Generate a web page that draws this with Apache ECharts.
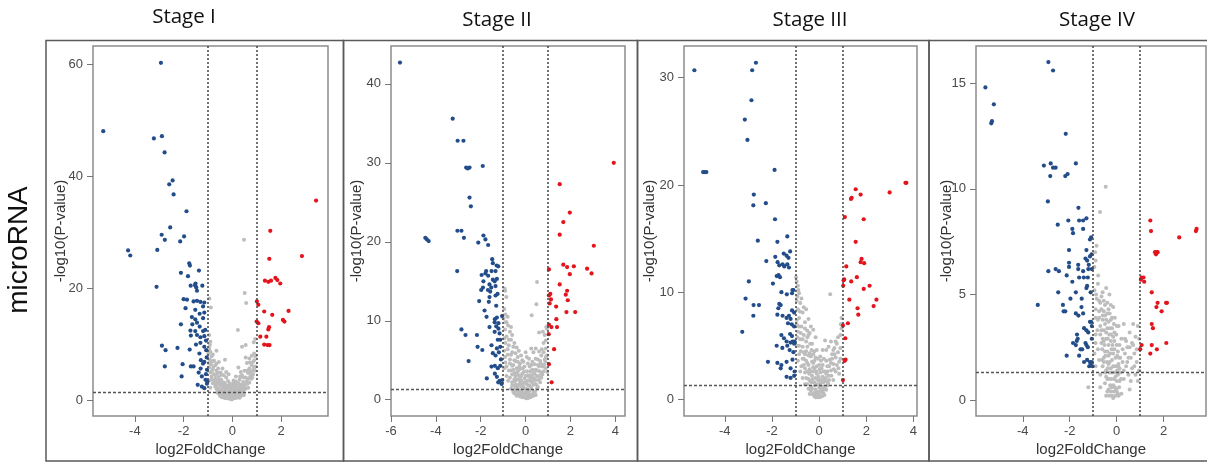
<!DOCTYPE html>
<html><head><meta charset="utf-8">
<script src="https://cdn.jsdelivr.net/npm/echarts@6/dist/echarts.min.js"></script>
<style>html,body{margin:0;padding:0;background:#fff}#c{width:1207px;height:463px}</style>
</head><body><div id="c"></div>
<script>
// ---------- data ----------
const stageNames = ['Stage I', 'Stage II', 'Stage III', 'Stage IV'];
const rowLabel = 'microRNA';
const xName = 'log2FoldChange';
const yName = '-log10(P-value)';
const fcCut = [-1, 1];
const pCut = 1.3;

const xTicks1 = [-4, -2, 0, 2];
const yTicks1 = [0, 20, 40, 60];
const xTicks2 = [-6, -4, -2, 0, 2, 4];
const yTicks2 = [0, 10, 20, 30, 40];
const xTicks3 = [-4, -2, 0, 2, 4];
const yTicks3 = [0, 10, 20, 30];
const xTicks4 = [-4, -2, 0, 2];
const yTicks4 = [0, 5, 10, 15];

// Stage I
const s1Down = [[-2.93,60.2],[-5.30,48.0],[-2.89,47.1],[-3.22,46.7],[-2.78,44.2],[-2.45,39.2],[-2.59,38.5],[-2.41,36.7],[-1.88,33.7],[-2.55,30.8],[-2.90,29.5],[-2.77,28.6],[-1.98,29.2],[-2.14,28.3],[-3.08,26.8],[-4.28,26.7],[-4.19,25.8],[-1.77,24.4],[-1.74,24.0],[-1.37,23.1],[-1.82,22.1],[-2.11,22.7],[-3.11,20.2],[-1.51,20.8],[-1.53,20.5],[-1.48,20.1],[-1.23,20.4],[-1.71,20.4],[-1.45,19.5],[-2.0,18.0],[-1.86,17.9],[-1.59,17.6],[-1.45,17.7],[-1.31,17.5],[-1.15,17.4],[-1.20,16.7],[-1.92,16.4],[-1.52,16.1],[-1.34,15.4],[-1.15,15.6],[-1.66,14.8],[-1.52,14.4],[-1.20,14.6],[-2.11,13.5],[-1.64,13.5],[-1.45,13.8],[-1.34,13.1],[-1.72,12.4],[-1.52,12.3],[-1.20,12.3],[-1.11,12.5],[-1.70,11.5],[-1.45,11.6],[-1.31,11.2],[-1.15,11.4],[-2.89,9.7],[-2.74,8.9],[-2.25,9.3],[-1.75,9.0],[-1.49,9.9],[-1.31,10.2],[-1.15,9.5],[-1.07,8.9],[-2.04,6.4],[-1.70,6.0],[-1.59,6.0],[-2.77,6.0],[-1.29,7.1],[-1.20,6.5],[-1.15,6.8],[-2.08,4.2],[-1.38,4.9],[-1.25,4.2],[-1.08,4.6],[-1.04,5.4],[-1.42,2.7],[-1.25,2.4],[-1.15,2.1],[-1.04,2.9],[-1.05,7.6],[-1.10,3.6],[-1.02,3.3],[-1.30,5.6],[-1.08,10.6],[-1.35,8.3]];
const s1Up = [[3.44,35.6],[1.56,30.2],[2.86,25.7],[1.52,25.2],[1.34,21.3],[1.48,21.1],[1.59,21.3],[1.77,21.8],[1.85,21.4],[1.97,20.8],[1.01,17.6],[1.07,17.0],[1.31,15.8],[1.64,15.2],[2.31,15.9],[1.0,14.0],[1.07,13.7],[2.08,14.3],[2.14,14.0],[1.51,13.0],[1.48,12.6],[1.15,11.3],[1.40,11.3],[1.31,9.9],[1.45,9.8],[1.53,9.8]];
const s1NS = [[0.48,28.6],[0.51,19.1],[0.57,17.3],[-0.94,18.1],[-0.88,16.5],[0.23,12.5],[0.40,9.5],[0.55,9.8],[0.94,10.9],[0.88,10.3],[-0.95,11.6],[-0.9,10.4],[-0.95,9.2],[-0.9,8.6],[-0.85,7.8],[-0.92,7.2],[-0.8,8.1],[-0.75,7.0],[-0.88,6.4],[-0.7,6.2],[-0.95,5.8],[-0.8,5.5],[-0.65,5.2],[-0.9,4.9],[-0.75,4.6],[-0.6,4.8],[-0.85,4.2],[-0.55,4.1],[-0.7,3.8],[-0.95,3.5],[-0.45,3.6],[-0.6,3.2],[-0.8,3.0],[-0.5,2.9],[-0.35,3.1],[-0.7,2.4],[-0.4,2.5],[-0.55,2.1],[-0.9,2.2],[-0.3,2.2],[-0.45,1.8],[-0.2,2.0],[-0.35,1.5],[-0.25,1.2],[-0.6,1.6],[-0.15,1.4],[-0.1,0.9],[-0.3,0.8],[-0.05,1.8],[0.05,0.6],[0.1,1.2],[-0.2,0.5],[0.15,0.9],[0,0.3],[0.2,1.6],[0.25,2.3],[0.1,2.0],[0.3,1.1],[0.35,2.7],[0.4,1.9],[0.45,3.2],[0.3,3.6],[0.5,2.6],[0.55,4.0],[0.4,4.4],[0.6,3.4],[0.65,4.8],[0.5,5.2],[0.7,5.6],[0.75,4.3],[0.8,6.2],[0.6,6.6],[0.85,5.3],[0.9,7.1],[0.7,7.4],[0.95,6.0],[0.8,7.9],[0.55,7.6],[0.9,8.3],[0.0,2.6],[-0.1,3.0],[0.05,3.5],[-0.25,4.0],[0.15,4.2],[-0.4,5.6],[0.25,5.8],[-0.55,6.8],[-0.3,7.2],[-0.15,2.6],[0.2,3.0],[-0.45,4.5],[0.35,5.0],[-0.65,8.8],[0.65,2.2],[-0.05,1.1],
  [-0.55,1.1],[-0.45,1.2],[-0.4,0.9],[-0.32,0.4],[-0.25,0.7],[-0.18,0.3],[-0.12,0.2],[-0.08,0.5],[-0.02,0.1],[0.02,0.9],[0.08,0.3],[0.12,0.5],[0.18,0.4],[0.22,0.8],[0.28,0.6],[0.35,0.7],[0.42,1.2],[0.48,0.9],[-0.65,2.0],[-0.5,1.5],[-0.38,2.0],[-0.28,1.7],[-0.22,2.5],[-0.12,1.9],[-0.02,2.2],[0.07,1.6],[0.13,2.5],[0.18,1.9],[0.28,2.0],[0.38,2.4],[0.45,1.6],[0.55,2.0],[0.62,2.9],[0.7,3.1],[0.78,3.8],[0.85,4.6],[0.92,5.2],[-0.7,2.9],[-0.62,3.6],[-0.52,3.4],[-0.42,3.0],[-0.32,2.6],[-0.18,3.4],[-0.08,2.6],[0.05,3.0],[0.15,3.3],[0.25,3.0],[0.32,4.2],[0.45,4.0],[-0.85,5.1],[-0.78,5.9],[-0.68,4.4],[-0.58,5.6],[-0.48,4.9],[-0.35,4.4],[-0.25,5.0],[-0.15,4.6],[-0.97,6.6],[-0.82,6.9],[-0.65,6.5],[0.62,5.2],[0.72,6.7],[0.85,6.8],[0.95,7.8],[-0.92,9.8],[-0.98,8.3],
  [-0.5,0.7],[-0.42,0.5],[-0.35,1.1],[-0.28,0.3],[-0.22,1.0],[-0.15,0.6],[-0.06,0.3],[0.0,0.7],[0.04,1.3],[0.1,0.4],[0.16,0.6],[0.22,1.2],[0.3,0.4],[0.38,0.9],[-0.6,1.3],[-0.48,2.6],[-0.38,1.5],[-0.3,2.9],[-0.18,1.2],[-0.1,2.2],[0.02,1.7],[0.12,2.8],[0.2,2.2],[0.32,1.6],[0.42,2.8],[0.5,2.0],[0.58,3.0],[-0.75,3.4],[-0.65,2.6],[-0.55,3.0],[-0.85,3.7],[0.68,3.9],[0.75,5.0],[0.82,4.0],[0.9,5.8]];

// Stage II
const s2Down = [[-5.60,42.7],[-3.25,35.6],[-3.03,32.8],[-2.77,32.8],[-2.65,29.4],[-2.58,29.3],[-2.50,29.4],[-1.91,29.6],[-2.50,25.6],[-2.44,24.5],[-3.04,21.4],[-2.86,21.4],[-2.75,20.5],[-4.47,20.5],[-4.40,20.3],[-4.32,20.1],[-1.88,20.8],[-1.79,20.3],[-2.11,19.9],[-1.67,19.6],[-3.05,16.3],[-1.49,17.8],[-1.46,17.3],[-1.29,17.0],[-1.22,16.9],[-1.76,16.3],[-1.79,16.0],[-1.52,16.3],[-1.34,16.3],[-1.96,15.8],[-1.88,15.0],[-1.67,15.7],[-1.46,15.2],[-1.38,15.0],[-1.28,15.3],[-1.61,14.6],[-1.90,14.2],[-1.68,13.9],[-1.53,14.2],[-1.34,14.4],[-1.98,13.9],[-1.58,13.7],[-1.34,13.2],[-1.25,13.4],[-2.07,12.5],[-1.61,13.0],[-1.64,12.4],[-1.31,11.9],[-1.83,11.3],[-1.74,10.5],[-1.37,10.2],[-1.28,10.4],[-1.38,9.8],[-1.21,9.7],[-1.61,9.2],[-1.31,9.3],[-1.21,9.0],[-2.86,8.9],[-2.68,8.2],[-2.17,8.2],[-1.38,8.6],[-1.16,8.4],[-1.24,7.6],[-1.13,7.6],[-2.14,6.7],[-1.93,6.3],[-1.52,6.9],[-1.28,6.5],[-1.13,6.7],[-1.46,5.9],[-1.34,5.6],[-1.19,6.0],[-2.54,4.9],[-1.52,4.2],[-1.37,4.3],[-1.24,4.0],[-1.13,4.3],[-1.73,2.7],[-1.37,3.3],[-1.28,2.9],[-1.16,2.4],[-1.22,2.2],[-1.07,2.0],[-1.04,2.5],[-1.05,10.6],[-1.10,5.1]];
const s2Up = [[3.93,30.0],[1.52,27.3],[1.97,23.7],[1.68,22.5],[1.52,20.9],[3.04,19.5],[1.68,17.1],[1.85,16.8],[2.15,16.9],[2.74,16.6],[2.94,16.0],[1.97,15.9],[1.04,16.5],[1.52,14.6],[1.10,13.4],[1.04,13.2],[1.13,12.7],[1.85,13.8],[1.79,13.3],[1.88,12.6],[1.07,12.2],[1.36,11.8],[1.82,11.1],[2.21,11.1],[1.37,10.2],[1.04,9.5],[1.15,9.2],[1.40,9.2],[1.03,8.3],[1.27,6.4],[1.04,4.5],[1.16,2.2]];
const s2NS = [[0.51,14.9],[0.48,12.1],[0.27,10.7],[0.60,8.5],[-0.91,13.8],[-0.98,10.3],[-0.94,14.1],[-0.86,13.0],[0.92,9.2],[0.77,8.6],[-0.95,11.5],[-0.9,10.8],[-0.85,9.8],[-0.78,9.4],[-0.92,8.9],[-0.7,8.6],[-0.85,8.0],[-0.65,7.6],[-0.9,7.2],[-0.75,6.9],[-0.55,6.7],[-0.95,6.2],[-0.6,6.0],[-0.8,5.7],[-0.45,5.9],[-0.7,5.1],[-0.5,5.0],[-0.9,4.7],[-0.35,4.8],[-0.6,4.3],[-0.4,4.0],[-0.75,3.7],[-0.25,3.9],[-0.5,3.4],[-0.3,3.1],[-0.85,3.0],[-0.15,3.3],[-0.4,2.6],[-0.2,2.4],[-0.6,2.2],[-0.05,2.7],[-0.3,1.9],[-0.1,1.6],[-0.45,1.5],[0.05,2.0],[-0.2,1.1],[0.0,0.8],[-0.1,0.4],[0.1,1.3],[0.15,0.7],[0.2,2.4],[0.25,1.5],[0.3,2.9],[0.35,1.9],[0.4,3.3],[0.45,2.5],[0.5,3.7],[0.3,3.8],[0.55,4.4],[0.6,3.0],[0.65,4.9],[0.45,5.2],[0.7,5.6],[0.75,4.2],[0.8,6.0],[0.85,5.1],[0.9,6.5],[0.95,5.6],[0.6,6.1],[0.9,7.5],[0.85,8.2],[0.95,9.0],[0.1,3.1],[-0.05,4.2],[0.2,3.6],[-0.15,5.0],[0.1,4.6],[-0.3,6.2],[0.35,6.0],[-0.5,7.2],[0.2,0.3],[-0.3,0.6],[0.35,1.0],[-0.25,2.8],[0.15,2.9],[-0.65,9.2],[-0.55,3.8],[0.05,5.4],[-0.35,5.4],[0.5,1.4],[0.7,3.4],
  [-0.55,1.0],[-0.42,1.2],[-0.35,0.8],[-0.25,0.4],[-0.15,0.3],[-0.08,0.7],[0.02,0.2],[0.08,0.5],[0.14,1.0],[0.22,0.6],[0.3,0.7],[0.42,1.0],[-0.6,1.8],[-0.48,2.3],[-0.35,1.6],[-0.25,2.1],[-0.12,2.0],[0.0,1.4],[0.08,2.4],[0.18,1.8],[0.28,2.2],[0.38,2.7],[0.48,1.9],[0.58,2.5],[-0.7,2.8],[-0.6,3.2],[-0.45,3.0],[-0.35,3.6],[-0.2,3.0],[-0.08,3.5],[0.05,3.6],[0.22,3.1],[0.35,3.4],[0.5,3.0],[0.62,3.6],[0.75,3.2],[0.82,4.4],[0.9,4.0],[0.97,3.5],[-0.85,4.2],[-0.7,4.6],[-0.55,4.4],[-0.45,4.9],[-0.25,4.6],[-0.1,4.8],[0.15,5.2],[0.25,4.4],[0.4,4.5],[0.55,5.1],[0.68,4.6],[-0.92,5.4],[-0.8,6.4],[-0.65,5.7],[-0.4,6.6],[-0.2,5.6],[0.0,6.0],[0.25,6.5],[0.45,6.5],[0.72,6.4],[0.9,5.4],[-0.95,7.8],[-0.75,7.6],[-0.6,8.2],[-0.9,9.8],[-0.8,10.5],[0.8,7.2],
  [-0.5,0.8],[-0.4,0.5],[-0.3,1.2],[-0.22,0.8],[-0.12,0.9],[-0.05,0.3],[0.05,0.9],[0.1,0.2],[0.18,1.2],[0.26,0.4],[0.35,0.5],[0.45,0.6],[-0.65,1.4],[-0.52,1.8],[-0.42,1.9],[-0.3,2.5],[-0.18,1.6],[-0.05,2.2],[0.02,1.1],[0.12,1.8],[0.24,2.7],[0.32,2.4],[0.42,2.0],[0.55,1.6],[0.65,2.2],[-0.78,2.4],[-0.65,3.7],[-0.5,2.6],[-0.4,3.4],[-0.28,4.2],[-0.12,4.0],[0.0,3.0],[0.18,4.2],[0.3,4.8],[0.45,3.8],[0.6,4.2],[0.7,2.8],[0.8,3.6],[0.88,4.8],[-0.95,4.0]];

// Stage III
const s3Down = [[-5.29,30.7],[-2.68,31.4],[-2.84,30.7],[-2.87,27.9],[-3.15,26.1],[-3.04,24.2],[-4.92,21.2],[-4.85,21.2],[-4.78,21.2],[-1.89,21.4],[-2.77,19.1],[-2.26,18.3],[-2.79,18.1],[-1.87,16.8],[-1.35,15.2],[-2.60,14.8],[-1.77,14.7],[-1.50,13.6],[-1.38,13.4],[-1.30,13.2],[-1.23,13.8],[-2.24,12.9],[-1.86,13.3],[-1.76,12.8],[-1.69,12.5],[-1.55,12.6],[-1.48,12.4],[-1.35,12.6],[-1.28,12.3],[-1.80,11.5],[-1.72,11.6],[-1.66,11.4],[-2.98,11.0],[-1.96,10.8],[-1.09,10.2],[-1.15,9.9],[-1.60,10.0],[-1.37,9.8],[-3.12,9.4],[-2.79,7.8],[-2.55,8.8],[-2.78,8.8],[-3.26,6.3],[-1.13,10.2],[-1.69,8.9],[-1.63,8.8],[-1.73,8.5],[-1.77,7.9],[-1.55,7.8],[-1.38,7.6],[-1.28,7.8],[-1.21,7.5],[-1.15,8.3],[-1.06,8.1],[-1.32,7.1],[-1.16,7.0],[-1.06,6.8],[-1.60,6.0],[-1.49,5.7],[-1.23,6.1],[-1.15,5.9],[-1.38,5.4],[-1.21,5.3],[-1.12,5.4],[-1.06,5.2],[-1.04,5.4],[-1.80,5.0],[-1.56,4.8],[-1.35,5.0],[-2.17,3.5],[-1.77,3.4],[-1.60,3.2],[-1.38,3.5],[-1.13,3.7],[-1.63,2.9],[-1.21,2.9],[-1.04,2.6],[-1.38,2.1],[-1.21,2.0],[-1.06,2.2],[-1.09,4.4],[-1.25,4.6]];
const s3Up = [[3.70,20.2],[3.66,20.2],[2.99,19.3],[1.55,19.6],[1.38,18.8],[1.35,18.7],[1.76,19.1],[1.09,17.0],[1.89,16.8],[1.55,14.7],[1.80,13.1],[1.76,12.8],[1.91,12.7],[1.15,12.4],[1.60,11.4],[1.06,11.2],[1.04,11.1],[1.36,11.0],[2.14,10.6],[1.89,10.3],[1.02,10.6],[2.43,9.3],[1.28,9.3],[2.31,8.7],[1.63,8.5],[1.66,7.9],[1.22,7.1],[1.01,6.9],[1.11,5.7],[1.12,3.7],[1.08,3.6],[1.01,1.8]];
const s3NS = [[0.47,9.8],[-0.98,11.4],[0.92,7.0],[0.95,7.6],[-0.95,11.0],[-0.9,10.6],[-0.85,9.9],[-0.95,9.2],[-0.8,9.0],[-0.9,8.4],[-0.7,8.1],[-0.85,7.6],[-0.95,7.0],[-0.75,6.8],[-0.6,7.2],[-0.9,6.3],[-0.65,6.0],[-0.8,5.6],[-0.5,5.8],[-0.95,5.0],[-0.7,4.9],[-0.55,4.5],[-0.85,4.2],[-0.4,4.3],[-0.65,3.8],[-0.5,3.4],[-0.3,3.5],[-0.75,3.1],[-0.4,2.8],[-0.2,2.9],[-0.6,2.5],[-0.3,2.2],[-0.1,2.4],[-0.45,1.9],[-0.2,1.6],[-0.05,1.8],[-0.35,1.2],[-0.15,0.9],[0.0,1.1],[-0.05,0.4],[0.1,0.7],[0.05,1.5],[0.15,2.1],[0.2,1.2],[0.25,2.6],[0.3,1.7],[0.1,2.9],[0.35,3.1],[0.4,2.2],[0.45,3.7],[0.5,2.7],[0.55,4.2],[0.6,3.3],[0.65,4.8],[0.7,3.9],[0.75,5.2],[0.8,4.4],[0.85,3.5],[0.9,6.0],[0.95,6.6],[0.9,4.8],[0.2,3.8],[0.0,3.2],[-0.15,3.9],[0.15,4.6],[0.25,5.5],[-0.3,5.2],[0.5,5.4],[0.4,4.9],[-0.25,6.5],[-0.45,7.5],[0.05,2.5],[-0.1,0.6],[0.3,0.9],[0.6,1.8],[-0.6,1.4],[-0.2,4.5],[0.05,4.0],[-0.4,6.2],[0.85,2.4],[0.7,2.6],
  [-0.45,1.0],[-0.35,0.8],[-0.28,0.5],[-0.2,0.3],[-0.12,0.5],[-0.08,0.2],[0.0,0.4],[0.05,0.8],[0.12,0.3],[0.18,0.6],[0.25,1.0],[0.35,1.3],[-0.55,2.0],[-0.42,2.4],[-0.32,1.6],[-0.25,2.6],[-0.15,2.0],[-0.02,2.1],[0.08,1.8],[0.12,1.2],[0.22,1.9],[0.3,2.4],[0.42,1.8],[0.52,2.2],[-0.7,2.0],[-0.8,2.6],[-0.65,3.2],[-0.55,3.6],[-0.45,3.2],[-0.35,4.0],[-0.25,3.4],[-0.1,3.1],[0.08,3.6],[0.3,3.6],[0.42,3.1],[0.62,2.8],[0.75,3.2],[0.82,2.9],[0.9,3.8],[-0.9,3.6],[-0.78,4.5],[-0.65,4.4],[-0.5,4.9],[-0.38,5.2],[-0.25,4.2],[-0.1,4.6],[0.3,4.6],[0.6,4.6],[0.7,5.4],[0.8,5.8],[-0.92,5.8],[-0.78,6.2],[-0.6,6.6],[-0.5,6.4],[-0.35,6.8],[-0.15,5.8],[-0.95,7.4],[-0.82,8.2],[-0.65,8.6],[-0.55,8.4],[-0.92,9.6],[-0.75,9.4],[-0.88,10.2],
  [-0.4,0.5],[-0.3,1.0],[-0.22,0.6],[-0.15,0.2],[-0.05,0.7],[0.02,0.2],[0.08,1.1],[0.15,0.9],[0.22,0.4],[-0.5,1.4],[-0.38,1.7],[-0.28,1.9],[-0.18,1.3],[-0.08,1.4],[0.0,1.8],[0.18,1.6],[0.28,2.0],[0.38,1.5],[-0.6,2.9],[-0.5,2.6],[-0.35,2.6],[-0.25,3.0],[-0.12,2.6],[0.02,2.8],[0.18,2.6],[0.35,2.6],[0.5,3.4],[-0.7,3.8],[-0.6,4.2],[-0.45,4.1],[-0.32,4.6],[-0.2,3.6],[-0.05,3.8],[0.15,3.2],[0.55,3.8],[0.65,4.2],[-0.85,5.0],[-0.7,5.6],[-0.55,5.4],[-0.45,6.0],[-0.85,6.8]];

// Stage IV
const s4Down = [[-2.91,16.0],[-2.71,15.6],[-5.59,14.8],[-5.23,14.0],[-5.31,13.2],[-5.34,13.1],[-2.17,12.6],[-3.10,11.1],[-2.81,11.2],[-2.71,11.0],[-2.60,11.0],[-2.83,10.6],[-1.74,11.2],[-2.09,10.7],[-2.19,10.6],[-2.93,9.4],[-1.63,9.1],[-2.06,8.5],[-1.60,8.5],[-1.43,8.5],[-1.29,8.6],[-2.51,8.3],[-1.89,8.1],[-1.86,7.9],[-1.43,8.1],[-1.09,7.7],[-1.14,7.6],[-2.03,7.1],[-1.29,7.1],[-1.07,6.9],[-1.14,6.8],[-1.33,6.7],[-1.26,6.6],[-1.19,6.4],[-2.60,6.2],[-2.46,6.1],[-2.91,6.1],[-2.03,6.5],[-2.03,6.3],[-1.64,6.4],[-1.64,6.2],[-1.43,6.1],[-1.21,6.2],[-1.06,6.2],[-2.13,5.9],[-1.89,5.6],[-1.60,5.8],[-1.40,5.8],[-1.23,5.8],[-1.26,5.4],[-1.29,5.3],[-2.49,5.1],[-1.74,5.1],[-1.11,5.1],[-1.97,4.8],[-1.49,4.8],[-3.36,4.5],[-2.29,4.5],[-2.26,4.2],[-2.19,4.2],[-1.50,4.4],[-1.43,4.1],[-1.74,4.1],[-1.63,4.0],[-1.14,3.7],[-1.09,3.7],[-1.06,3.5],[-1.39,3.4],[-1.29,3.3],[-1.21,3.2],[-1.69,3.1],[-1.66,2.9],[-1.70,2.8],[-1.86,2.7],[-1.74,2.6],[-1.33,2.7],[-1.29,2.6],[-1.23,2.5],[-1.54,2.4],[-1.47,2.4],[-1.06,2.9],[-2.13,2.1],[-1.60,2.1],[-1.39,1.8],[-1.26,1.9],[-1.14,1.8],[-1.11,1.7],[-1.06,1.8],[-1.03,1.6],[-1.17,1.6]];
const s4Up = [[3.37,8.0],[3.40,8.1],[2.66,7.7],[1.43,8.5],[1.46,8.0],[1.63,7.0],[1.71,7.0],[1.67,6.9],[1.74,7.0],[1.06,5.8],[1.14,5.8],[1.17,5.6],[1.03,5.7],[1.49,5.1],[2.14,4.6],[2.10,4.6],[1.74,4.6],[1.69,4.4],[1.91,4.2],[1.49,3.6],[1.54,3.4],[2.11,2.7],[1.06,2.6],[1.0,2.4],[1.49,2.6],[1.43,2.2],[1.71,2.4]];
const s4NS = [[-0.47,10.1],[-0.71,8.9],[-0.86,7.3],[-0.92,7.0],[-0.9,6.6],[-0.95,6.3],[-0.79,5.9],[-0.95,5.2],[-0.6,5.1],[-0.31,5.0],[-0.85,4.8],[-0.7,4.6],[-0.5,4.5],[-0.9,4.3],[-0.35,4.3],[-0.6,4.0],[-0.8,3.8],[-0.45,3.8],[-0.2,3.9],[-0.7,3.5],[-0.55,3.3],[-0.3,3.4],[-0.9,3.1],[-0.1,3.2],[-0.45,2.9],[-0.65,2.7],[-0.25,2.8],[0.0,2.6],[-0.8,2.4],[-0.4,2.3],[-0.15,2.2],[-0.55,2.0],[0.1,2.0],[-0.3,1.8],[-0.9,1.6],[-0.05,1.6],[-0.45,1.4],[-0.2,1.3],[0.15,1.3],[-0.7,1.2],[-0.35,1.0],[0.0,0.9],[-0.15,0.7],[0.1,0.6],[-0.5,0.8],[-0.25,0.4],[-0.05,0.2],[0.2,0.3],[-1.21,0.6],[0.3,1.0],[0.4,1.6],[0.5,1.2],[0.6,2.0],[0.45,2.5],[0.65,2.7],[0.75,2.2],[0.8,3.0],[0.55,3.2],[0.85,1.8],[0.9,3.5],[0.7,3.6],[0.95,2.9],[0.35,2.2],[0.25,1.8],[0.2,2.9],[0.3,3.6],[0.8,1.2],[0.95,1.4],[0.6,0.9],[-0.6,2.9],[-0.75,1.9],[-0.4,4.6],[-0.2,1.9],[-0.1,2.4],[-0.35,2.6],[-0.25,3.1],[0.05,1.2],[-0.6,1.6],[-0.75,4.2],
  [-0.4,0.4],[-0.32,0.2],[-0.28,0.7],[-0.2,0.2],[-0.12,0.4],[-0.02,0.5],[0.05,0.3],[0.12,0.9],[-0.45,1.1],[-0.38,1.5],[-0.3,1.3],[-0.25,1.0],[-0.12,1.0],[-0.08,1.3],[0.02,1.4],[0.08,1.7],[0.18,1.0],[-0.55,1.8],[-0.48,2.1],[-0.42,1.8],[-0.28,2.2],[-0.18,2.6],[-0.05,2.0],[0.05,2.3],[0.12,2.6],[-0.62,2.4],[-0.52,2.6],[-0.38,2.9],[-0.15,3.0],[-0.02,3.1],[0.08,3.5],[-0.7,3.1],[-0.5,3.6],[-0.4,3.4],[-0.25,3.8],[-0.12,3.6],[-0.82,3.3],[-0.6,3.8],[-0.55,4.2],[-0.3,4.1],[-0.15,4.4],[-0.9,3.9],[-0.65,4.9],[-0.45,5.3],[-0.8,5.5],[-0.88,5.0],[-0.9,2.7],[0.25,2.4],[0.4,2.8],[0.5,2.0],[0.7,2.6],[0.55,0.5],[0.75,1.6],[0.85,2.4],[0.9,0.9],[-0.7,0.6],[-0.95,2.2],
  [-0.45,0.2],[-0.35,0.5],[-0.22,0.6],[-0.15,0.1],[-0.08,0.6],[0.0,0.4],[0.08,0.2],[-0.5,1.3],[-0.4,1.0],[-0.35,1.7],[-0.25,1.5],[-0.15,1.6],[-0.05,1.1],[0.05,1.6],[0.12,1.5],[-0.62,1.9],[-0.5,2.3],[-0.35,2.1],[-0.22,2.4],[-0.1,2.8],[0.02,2.1],[0.15,2.0],[-0.65,3.3],[-0.55,2.8],[-0.45,3.2],[-0.32,3.1],[-0.2,3.4],[-0.08,3.9],[0.0,3.5],[-0.75,3.9],[-0.65,4.3],[-0.5,4.0],[-0.4,4.1],[-0.25,4.5],[-0.75,4.7],[-0.55,4.7],[-0.35,3.7],[0.35,2.9],[0.55,2.5],[0.45,1.8],[0.65,1.5],[0.3,1.4]];

// ---------- layout / style (not data) ----------
const frames = [
  {left: 93, top: 46, width: 235, height: 370, xMin: -5.72, xMax: 3.93, yMin: -2.86, yMax: 63.2, nameGap: 24.5, titleX: 184, titleY: 17},
  {left: 391, top: 46, width: 234, height: 370, xMin: -6.0, xMax: 4.43, yMin: -2.06, yMax: 44.8, nameGap: 26.5, titleX: 497, titleY: 20},
  {left: 684, top: 46, width: 233, height: 370, xMin: -5.73, xMax: 4.15, yMin: -1.55, yMax: 32.96, nameGap: 26.5, titleX: 810, titleY: 20},
  {left: 976, top: 46, width: 230, height: 370, xMin: -5.99, xMax: 3.8, yMin: -0.756, yMax: 16.76, nameGap: 21.5, titleX: 1097, titleY: 20}
];
const xTicks = [xTicks1, xTicks2, xTicks3, xTicks4];
const yTicks = [yTicks1, yTicks2, yTicks3, yTicks4];
const series = [[s1NS, s1Down, s1Up], [s2NS, s2Down, s2Up], [s3NS, s3Down, s3Up], [s4NS, s4Down, s4Up]];
const colors = ['#bdbdbd', '#234d8a', '#e3141c'];
const outerBoxes = [[46, 343.5], [343.5, 637.5], [637.5, 929], [929, 1212]];

const labelFont = '"Liberation Sans", Arial, sans-serif';
const grid = [], xAxis = [], yAxis = [], ser = [], graphic = [];

frames.forEach((f, i) => {
  grid.push({left: f.left, top: f.top, width: f.width, height: f.height, show: true,
    borderColor: '#8c8c8c', borderWidth: 1.5, backgroundColor: 'transparent'});
  xAxis.push({type: 'value', gridIndex: i, min: f.xMin, max: f.xMax,
    name: xName, nameLocation: 'middle', nameGap: 26, nameMoveOverlap: false,
    nameTextStyle: {fontFamily: labelFont, fontSize: 15, color: '#333'},
    axisLine: {show: false, onZero: false}, splitLine: {show: false},
    axisTick: {show: true, length: 6, lineStyle: {color: '#777', width: 1}, customValues: xTicks[i]},
    axisLabel: {show: true, margin: 9, fontFamily: labelFont, fontSize: 13, color: '#4a4a4a', customValues: xTicks[i]}
  });
  yAxis.push({type: 'value', gridIndex: i, min: f.yMin, max: f.yMax,
    name: yName, nameLocation: 'middle', nameGap: f.nameGap, nameRotate: 90, nameMoveOverlap: false,
    nameTextStyle: {fontFamily: labelFont, fontSize: 15, color: '#333'},
    axisLine: {show: false, onZero: false}, splitLine: {show: false},
    axisTick: {show: true, length: 6, lineStyle: {color: '#777', width: 1}, customValues: yTicks[i]},
    axisLabel: {show: true, margin: 10, fontFamily: labelFont, fontSize: 13, color: '#4a4a4a', customValues: yTicks[i]}
  });
  series[i].forEach((d, k) => {
    const s = {type: 'scatter', xAxisIndex: i, yAxisIndex: i, data: d, symbol: 'circle',
      symbolSize: k === 0 ? 4 : 4.2, itemStyle: {color: colors[k], opacity: 1}, silent: true, z: 2 + k};
    if (k === 0) {
      s.markLine = {silent: true, symbol: 'none', label: {show: false}, animation: false,
        data: [
          {xAxis: fcCut[0], lineStyle: {type: [2, 2], color: '#444', width: 1.5}},
          {xAxis: fcCut[1], lineStyle: {type: [2, 2], color: '#444', width: 1.5}},
          {yAxis: pCut, lineStyle: {type: [3, 2], color: '#555', width: 1.4}}
        ]};
    }
    ser.push(s);
  });
  graphic.push({type: 'text', x: f.titleX, y: f.titleY, silent: true,
    style: {text: stageNames[i], font: '20.5px "Open Sans", sans-serif', fill: '#111', textAlign: 'center', textVerticalAlign: 'middle'}});
  const b = outerBoxes[i];
  graphic.push({type: 'rect', silent: true, shape: {x: b[0], y: 40.5, width: b[1] - b[0], height: 420.5},
    style: {fill: 'none', stroke: '#5a5a5a', lineWidth: 1.5}});
});
graphic.push({type: 'text', x: 19, y: 250, rotation: Math.PI / 2, silent: true,
  style: {text: rowLabel, font: '28px "Liberation Sans", Arial, sans-serif', fill: '#111', textAlign: 'center', textVerticalAlign: 'middle'}});

const chart = echarts.init(document.getElementById('c'), null, {renderer: 'canvas'});
chart.setOption({animation: false, backgroundColor: '#fff', grid, xAxis, yAxis, series: ser, graphic});
</script></body></html>
